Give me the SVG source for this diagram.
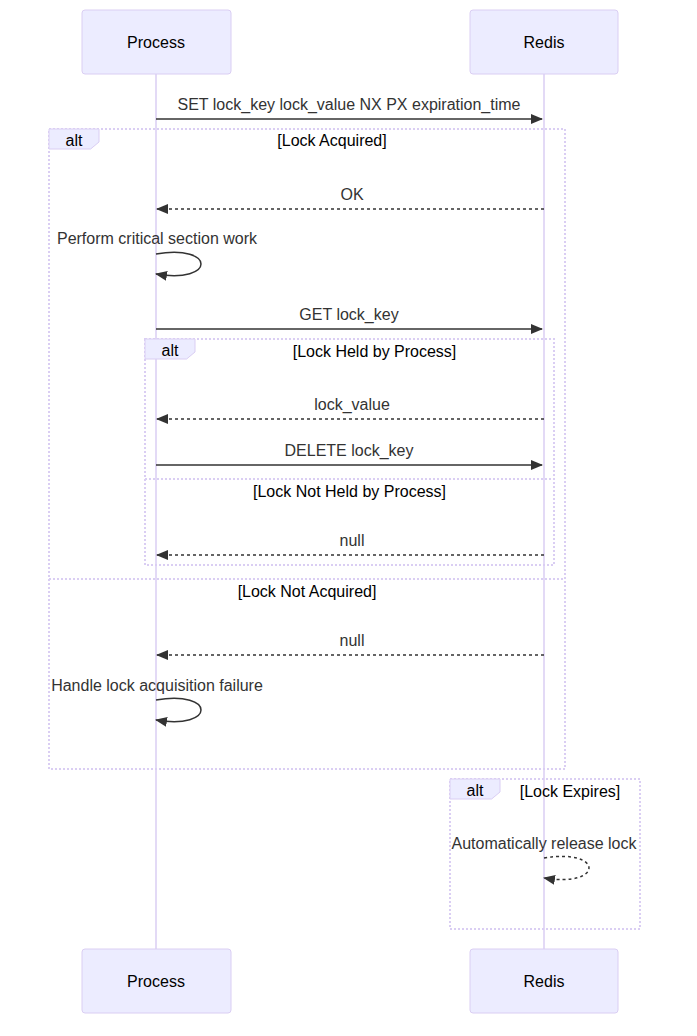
<svg xmlns="http://www.w3.org/2000/svg" width="697" height="1036" viewBox="0 0 697 1036">
<style>
.actor{fill:#ECECFF;stroke:#DACEF3;stroke-width:1}
.atext{font-family:"Liberation Sans",Arial,sans-serif;font-size:16px;fill:#000;text-anchor:middle}
.life{stroke:#DACEF3;stroke-width:1.5}
.frame{fill:none;stroke:#DACEF3;stroke-width:2;stroke-dasharray:2,2}
.lbox{fill:#ECECFF;stroke:#DACEF3;stroke-width:1}
.ltext{font-family:"Liberation Sans",Arial,sans-serif;font-size:16px;fill:#000;text-anchor:middle}
.mtext{font-family:"Liberation Sans",Arial,sans-serif;font-size:16px;fill:#333;text-anchor:middle}
.msg{fill:none;stroke:#333;stroke-width:1.5}
.dash{stroke-dasharray:3,3}
</style>
<defs>
<marker id="arrow" markerUnits="userSpaceOnUse" viewBox="0 0 12 10" refX="11" refY="5" markerWidth="12" markerHeight="10" orient="auto">
<path d="M0,0 L12,5 L0,10 z" fill="#333"/>
</marker>
</defs>
<g id="lifelines">
<line class="life" x1="156" y1="74" x2="156" y2="949"/>
<line class="life" x1="544" y1="74" x2="544" y2="949"/>
</g>
<g id="actor-process-top"><rect class="actor" x="82" y="10" width="149" height="64" rx="3"/><text class="atext" x="156" y="48">Process</text></g>
<g id="actor-redis-top"><rect class="actor" x="470" y="10" width="148" height="64" rx="3"/><text class="atext" x="544" y="48">Redis</text></g>
<g id="actor-process-bottom"><rect class="actor" x="82" y="949" width="149" height="64" rx="3"/><text class="atext" x="156" y="987">Process</text></g>
<g id="actor-redis-bottom"><rect class="actor" x="470" y="949" width="148" height="64" rx="3"/><text class="atext" x="544" y="987">Redis</text></g>
<g id="alt-outer">
<rect class="frame" x="49" y="129" width="516" height="640"/>
<polygon class="lbox" points="49,129 99,129 99,142 90.6,149 49,149"/>
<text class="ltext" x="74" y="146">alt</text>
<text class="ltext" x="332" y="146">[Lock Acquired]</text>
<line class="frame" x1="49" y1="579" x2="565" y2="579"/>
<text class="ltext" x="307" y="597">[Lock Not Acquired]</text>
</g>
<g id="alt-inner">
<rect class="frame" x="145" y="339" width="409" height="226"/>
<polygon class="lbox" points="145,339 195,339 195,352 186.6,359 145,359"/>
<text class="ltext" x="170" y="356">alt</text>
<text class="ltext" x="374.5" y="357">[Lock Held by Process]</text>
<line class="frame" x1="145" y1="479" x2="554" y2="479"/>
<text class="ltext" x="349.5" y="497">[Lock Not Held by Process]</text>
</g>
<g id="alt-expires">
<rect class="frame" x="450" y="779" width="190" height="150"/>
<polygon class="lbox" points="450,779 500,779 500,792 491.6,799 450,799"/>
<text class="ltext" x="475" y="796">alt</text>
<text class="ltext" x="570" y="797">[Lock Expires]</text>
</g>
<g id="connectors">
<text class="mtext" x="349" y="110">SET lock_key lock_value NX PX expiration_time</text>
<line class="msg" x1="156" y1="119" x2="542" y2="119" marker-end="url(#arrow)"/>
<text class="mtext" x="352" y="200">OK</text>
<line class="msg dash" x1="544" y1="209" x2="157" y2="209" marker-end="url(#arrow)"/>
<text class="mtext" x="157" y="244">Perform critical section work</text>
<path class="msg" d="M156,254 C216,244 216,284 156,274" marker-end="url(#arrow)"/>
<text class="mtext" x="349" y="320">GET lock_key</text>
<line class="msg" x1="156" y1="329" x2="542" y2="329" marker-end="url(#arrow)"/>
<text class="mtext" x="352" y="410">lock_value</text>
<line class="msg dash" x1="544" y1="419" x2="157" y2="419" marker-end="url(#arrow)"/>
<text class="mtext" x="349" y="456">DELETE lock_key</text>
<line class="msg" x1="156" y1="465" x2="542" y2="465" marker-end="url(#arrow)"/>
<text class="mtext" x="352" y="546">null</text>
<line class="msg dash" x1="544" y1="555" x2="157" y2="555" marker-end="url(#arrow)"/>
<text class="mtext" x="352" y="646">null</text>
<line class="msg dash" x1="544" y1="655" x2="157" y2="655" marker-end="url(#arrow)"/>
<text class="mtext" x="157" y="691">Handle lock acquisition failure</text>
<path class="msg" d="M156,700 C216,690 216,730 156,720" marker-end="url(#arrow)"/>
<text class="mtext" x="544" y="849">Automatically release lock</text>
<path class="msg dash" d="M544,858 C604,848 604,888 544,878" marker-end="url(#arrow)"/>
</g>
</svg>
